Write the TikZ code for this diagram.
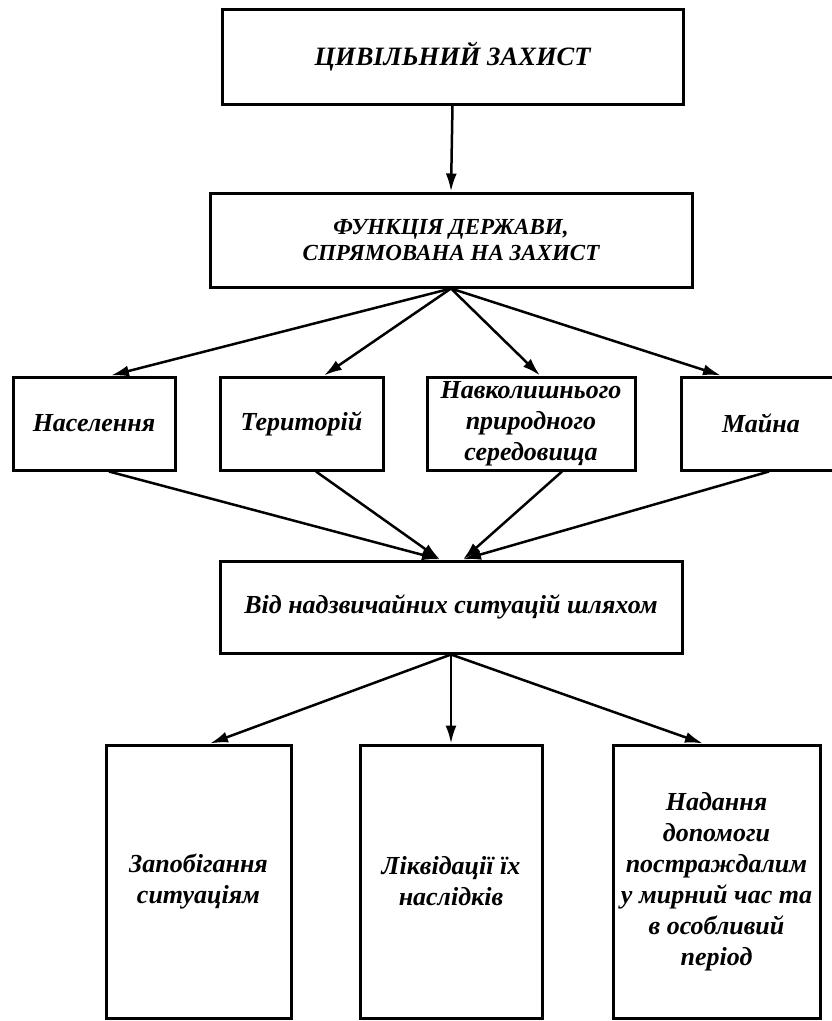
\documentclass[tikz,border=0pt]{standalone}
\usepackage{fontspec}
\setmainfont{Liberation Serif}
\usetikzlibrary{arrows.meta}
\begin{document}
\begin{tikzpicture}[x=1pt,y=-1pt,
  box/.style={draw, line width=3pt, align=center, inner sep=0pt, text=black,
    font=\bfseries\itshape\fontsize{26}{31}\selectfont},
  capstext/.style={font=\bfseries\itshape\fontsize{23}{26}\selectfont},
  bigtext/.style={font=\bfseries\itshape\fontsize{26.5}{32}\selectfont},
  arr/.style={line width=2.5pt, -{Latex[length=18pt,width=11pt]}}]
\useasboundingbox (0,0) rectangle (832,1021);
\clip (0,0) rectangle (832,1021);
% top
\node[box, bigtext, minimum width=461pt, minimum height=95pt] (civ) at (452.5,56.5) {ЦИВІЛЬНИЙ ЗАХИСТ};
\node[box, capstext, minimum width=482pt, minimum height=94pt] (fun) at (451,240) {ФУНКЦІЯ ДЕРЖАВИ,\\СПРЯМОВАНА НА ЗАХИСТ};
% middle row
\node[box, minimum width=162pt, minimum height=93pt] (nas) at (94,423.5) {Населення};
\node[box, minimum width=163pt, minimum height=93pt] (ter) at (301.5,423.5) {Територій};
\node[box, minimum width=208pt, minimum height=93pt] (nav) at (531,423.5) {Навколишнього\\природного\\середовища};
\node[box, minimum width=160pt, minimum height=93pt] (mai) at (761,423.5) {Майна};
% via
\node[box, minimum width=462pt, minimum height=92pt] (vid) at (451,607) {Від надзвичайних ситуацій шляхом};
% bottom row
\node[box, minimum width=185pt, minimum height=273pt] (zap) at (198.5,881.5) {Запобігання\\ситуаціям};
\node[box, minimum width=182pt, minimum height=273pt] (lik) at (451,881.5) {Ліквідації їх\\наслідків};
\node[box, minimum width=207pt, minimum height=273pt] (nad) at (716.5,881.5) {Надання\\допомоги\\постраждалим\\у мирний час та\\в особливий\\період};
% connectors
\draw[arr] (civ.south) -- (fun.north);
\draw[arr] (fun.south) -- ([xshift=17pt]nas.north);
\draw[arr] (fun.south) -- ([xshift=22.5pt]ter.north);
\draw[arr] (fun.south) -- ([xshift=9pt]nav.north);
\draw[arr] (fun.south) -- ([xshift=-40pt]mai.north);
\draw[arr] ([xshift=15pt]nas.south) -- ([xshift=-11pt]vid.north);
\draw[arr] ([xshift=14.5pt]ter.south) -- ([xshift=-11pt]vid.north);
\draw[arr] ([xshift=31pt]nav.south) -- ([xshift=12pt]vid.north);
\draw[arr] ([xshift=8pt]mai.south) -- ([xshift=12pt]vid.north);
\draw[arr] (vid.south) -- ([xshift=11.5pt]zap.north);
\draw[arr] (vid.south) -- (lik.north);
\draw[arr] (vid.south) -- ([xshift=-13.5pt]nad.north);
\end{tikzpicture}
\end{document}
